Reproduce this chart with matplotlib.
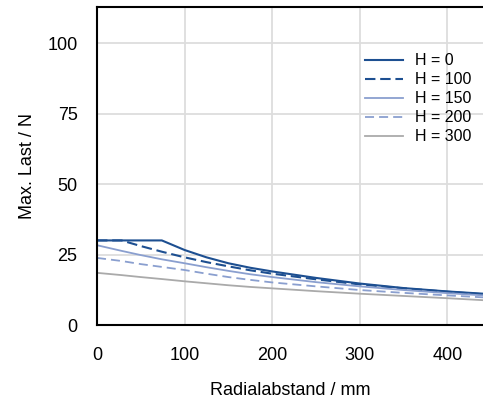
import matplotlib
matplotlib.use("Agg")
import matplotlib.pyplot as plt

plt.rcParams['font.family'] = ['Liberation Sans', 'DejaVu Sans']

# Radialabstand / mm
r = [0, 28, 50, 74, 100, 125, 150, 175, 200, 250, 300, 350, 400, 441]

# Max. Last / N per height H
h0 = [30.0, 30.0, 30.0, 30.0, 26.6, 24.0, 21.9, 20.3, 19.0, 16.7, 14.7, 13.1, 11.9, 11.1]
h100 = [30.0, 30.0, 28.0, 26.0, 24.0, 22.3, 20.8, 19.4, 18.2, 16.2, 14.4, 13.0, 11.8, 10.9]
h150 = [28.3, 26.3, 24.8, 23.3, 21.9, 20.5, 19.2, 18.0, 17.0, 15.2, 13.7, 12.4, 11.3, 10.5]
h200 = [23.8, 22.7, 21.6, 20.6, 19.5, 18.2, 17.0, 16.0, 15.1, 13.7, 12.4, 11.4, 10.5, 9.8]
h300 = [18.5, 17.7, 17.0, 16.3, 15.5, 14.8, 14.1, 13.5, 13.0, 12.0, 11.1, 10.3, 9.5, 8.8]

fig = plt.figure(figsize=(4.83, 4.03), dpi=100)
ax = fig.add_axes([97 / 483, 1 - 325 / 403, 1 - 97 / 483, (325 - 7) / 403])

navy = '#1d4f91'
light = '#8a9fcf'
grey = '#aaaaaa'

ax.plot(r, h0, color=navy, lw=1.5, label='H = 0')
ax.plot(r, h100, color=navy, lw=1.5, ls=(0, (5, 2.3)), label='H = 100')
ax.plot(r, h150, color=light, lw=1.3, label='H = 150')
ax.plot(r, h200, color=light, lw=1.3, ls=(0, (5, 2.8)), label='H = 200')
ax.plot(r, h300, color=grey, lw=1.3, label='H = 300')

ax.set_xlim(0, 440.6)
ax.set_ylim(0, 112.8)
ax.set_xticks([0, 100, 200, 300, 400])
ax.set_yticks([0, 25, 50, 75, 100])
ax.grid(True, color='#dddddd', lw=1.3)
ax.set_axisbelow(True)
ax.tick_params(axis='y', length=0, labelsize=13, pad=14)
ax.tick_params(axis='x', length=0, labelsize=13, pad=16)
for s in ['left', 'bottom', 'top']:
    ax.spines[s].set_linewidth(1.5)
ax.spines['right'].set_visible(False)

ax.set_xlabel('Radialabstand / mm', fontsize=13, labelpad=13)
ax.set_ylabel('Max. Last / N', fontsize=13, labelpad=8)

ax.legend(loc='upper right', bbox_to_anchor=(1.0, 0.89), frameon=False,
          fontsize=11.5, labelspacing=0.25, handlelength=2.4, handletextpad=0.75,
          borderaxespad=0.3)

fig.savefig('out.png', dpi=100)
